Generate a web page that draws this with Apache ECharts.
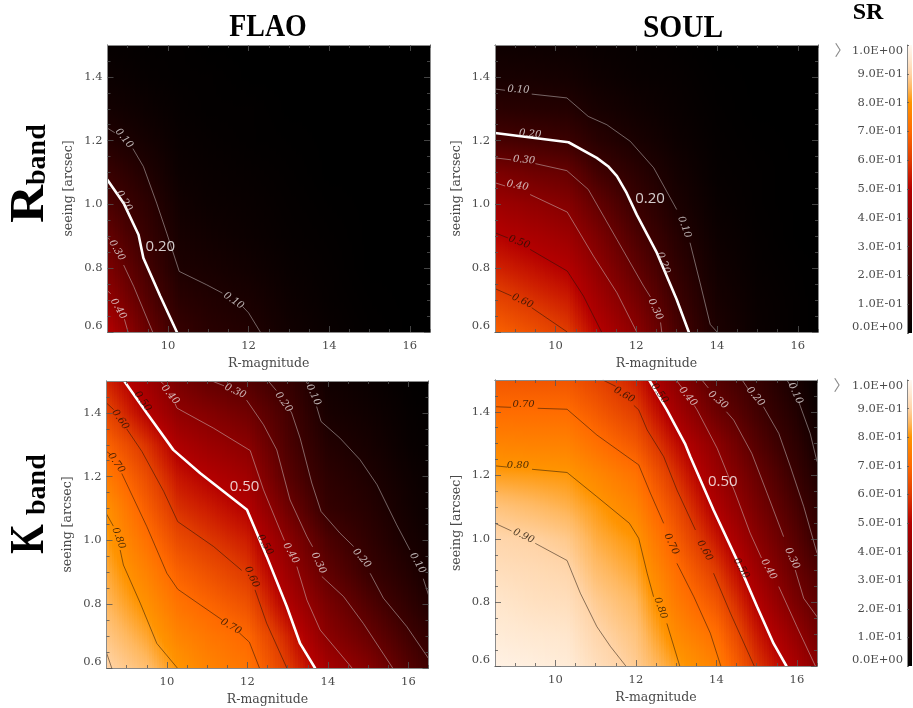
<!DOCTYPE html>
<html><head><meta charset="utf-8">
<script src="https://cdn.jsdelivr.net/npm/echarts@6/dist/echarts.min.js"></script>
<style>html,body{margin:0;padding:0;background:#fff}#c{width:913px;height:708px}</style>
</head><body><div id="c"></div>
<script>
const magNodes = [8.5, 9.5, 10.3, 11, 12, 13, 14, 15, 16, 16.5];
const seeingNodes = [0.6, 0.7, 0.8, 0.9, 1.0, 1.1, 1.2, 1.3, 1.4, 1.5];
const levelsBar = [0, 0.1, 0.2, 0.3, 0.4, 0.5, 0.6, 0.7, 0.8, 0.9, 1.0];
const colorStops = [[0,'#000000'],[0.1,'#1c0000'],[0.2,'#3c0000'],[0.3,'#640000'],[0.4,'#8c0000'],[0.5,'#b40000'],[0.55,'#cc1c00'],[0.6,'#e03c00'],[0.7,'#ff6a00'],[0.8,'#ff9400'],[0.85,'#ffb860'],[0.9,'#ffd4a8'],[0.95,'#ffe8d0'],[1,'#fff8f2']];

// Strehl ratio: one row per magnitude node, seeing 0.6 -> 1.5
const srFlaoR = [
[.50,.42,.36,.30,.24,.19,.12,.07,.04,.02],
[.31,.26,.22,.18,.15,.11,.07,.04,.02,.01],
[.18,.14,.10,.08,.06,.04,.03,.02,.01,.01],
[.14,.115,.085,.06,.04,.03,.02,.01,.01,0],
[.115,.09,.06,.04,.03,.02,.01,.01,0,0],
[.06,.045,.03,.02,.015,.01,.005,0,0,0],
[.03,.02,.015,.01,.005,0,0,0,0,0],
[.01,.005,0,0,0,0,0,0,0,0],
[0,0,0,0,0,0,0,0,0,0],
[0,0,0,0,0,0,0,0,0,0]];
const srSoulR = [
[.68,.62,.56,.505,.445,.36,.23,.145,.085,.05],
[.64,.58,.525,.47,.41,.325,.215,.13,.08,.045],
[.60,.55,.495,.44,.38,.305,.195,.12,.07,.04],
[.51,.46,.415,.365,.30,.22,.14,.085,.05,.03],
[.40,.345,.29,.24,.19,.145,.09,.055,.03,.02],
[.235,.20,.165,.13,.095,.07,.045,.03,.02,.01],
[.10,.08,.06,.045,.03,.02,.015,.01,.005,0],
[.035,.03,.02,.015,.01,.01,.005,0,0,0],
[.01,.01,.005,0,0,0,0,0,0,0],
[0,0,0,0,0,0,0,0,0,0]];
const srFlaoK = [
[.90,.875,.85,.83,.81,.79,.74,.685,.62,.56],
[.86,.825,.79,.755,.715,.675,.635,.585,.50,.45],
[.80,.76,.72,.68,.63,.58,.535,.48,.41,.35],
[.76,.73,.69,.645,.595,.55,.50,.44,.38,.30],
[.725,.695,.645,.595,.55,.50,.45,.395,.33,.26],
[.60,.56,.49,.44,.395,.33,.27,.24,.22,.18],
[.46,.395,.35,.29,.24,.175,.15,.12,.085,.06],
[.38,.31,.25,.19,.16,.13,.105,.08,.055,.035],
[.26,.21,.16,.12,.085,.065,.05,.03,.02,.01],
[.21,.165,.115,.08,.06,.04,.03,.02,.01,0]];
const srSoulK = [
[.98,.96,.945,.925,.905,.87,.815,.76,.705,.66],
[.97,.95,.93,.915,.895,.855,.81,.755,.705,.655],
[.96,.945,.925,.905,.88,.84,.805,.755,.705,.655],
[.925,.905,.885,.86,.835,.81,.77,.715,.665,.62],
[.885,.87,.85,.825,.80,.76,.72,.66,.605,.555],
[.815,.775,.74,.71,.67,.63,.58,.525,.46,.40],
[.755,.71,.655,.60,.54,.485,.44,.40,.32,.26],
[.59,.545,.495,.445,.395,.35,.31,.26,.215,.18],
[.47,.415,.35,.305,.265,.225,.185,.15,.115,.08],
[.40,.34,.29,.245,.19,.15,.115,.08,.045,.02]];

// Contours: [level, segment, segment, ...]; segments are split where a label sits on the line
const contFlaoR = [
[.40,[[8.5,.729],[8.58,.72]],[[8.92,.64],[9.01,.6]]],
[.30,[[8.5,.897],[8.55,.89]],[[8.9,.81],[9.15,.743],[9.62,.6]]],
[.20,[[8.5,1.077],[8.9,1.004],[9.27,.905],[9.39,.832],[9.81,.712],[10.22,.6]]],
[.10,[[8.5,1.239],[8.68,1.225]],[[9.13,1.175],[9.39,1.119],[9.72,1.004],[9.97,.91],[10.28,.79],[10.96,.748],[11.35,.722]],[[11.85,.68],[12,.66],[12.29,.6]]]];
const contSoulR = [
[.60,[[8.5,.736],[8.91,.713]],[[9.41,.676],[10.29,.6]]],
[.50,[[8.5,.911],[8.82,.895]],[[9.37,.859],[10.29,.791],[10.69,.713],[11.14,.6]]],
[.40,[[8.5,1.068],[8.75,1.058]],[[9.37,1.031],[10.29,.976],[10.94,.838],[11.52,.723],[12.01,.6]]],
[.30,[[8.5,1.146],[8.9,1.14]],[[9.5,1.128],[10.28,1.106],[10.81,1.047],[11.52,.89],[12.18,.744],[12.35,.71]],[[12.6,.63],[12.63,.6]]],
[.20,[[8.5,1.224],[10.32,1.195],[11.02,1.146],[11.3,1.12],[11.52,1.089],[11.76,1.036],[12.01,.968],[12.51,.848],[13,.702],[13.3,.6]]],
[.10,[[8.5,1.362],[8.75,1.358]],[[9.41,1.346],[10.28,1.334],[10.81,1.276],[11.27,1.25],[11.85,1.198],[12.43,1.115],[13,.984]],[[13.33,.88],[13.58,.754],[13.83,.624],[14,.6]]]];
const contFlaoK = [
[.90,[[8.5,.648],[8.63,.6]]],
[.80,[[8.5,1.083],[8.67,1.045]],[[8.84,.97],[8.92,.923],[9.34,.803],[9.75,.677],[10.26,.6]]],
[.70,[[8.5,1.279],[8.6,1.27]],[[8.88,1.21],[9.5,1.044],[10,.897],[10.27,.847],[10.83,.798],[11.37,.751]],[[11.8,.71],[12.05,.681],[12.3,.6]]],
[.60,[[8.5,1.431],[8.68,1.41]],[[9,1.35],[9.38,1.279],[9.92,1.154],[10.27,1.059],[11.16,.981],[11.86,.906]],[[12.19,.845],[12.48,.74],[12.98,.6]]],
[.50,[[8.94,1.5],[9.5,1.4],[10.16,1.284],[10.83,1.211],[11.99,1.096],[12.48,.95],[12.98,.793],[13.31,.677],[13.68,.6]]],
[.40,[[9.83,1.5],[9.92,1.49]],[[10.2,1.43],[10.25,1.415],[11.16,1.352],[12.07,1.282],[12.4,1.159],[12.81,1.033],[12.92,1.0]],[[13.23,.918],[13.48,.813],[13.81,.719],[14.6,.6]]],
[.30,[[11.12,1.5],[11.42,1.485]],[[11.98,1.44],[12.03,1.431],[12.4,1.363],[12.73,1.284],[13.06,1.127],[13.48,1.012],[13.62,.98]],[[13.85,.887],[14.39,.824],[14.88,.74],[15.61,.6]]],
[.20,[[12.52,1.5],[12.72,1.47]],[[13.05,1.41],[13.1,1.4],[13.31,1.321],[13.6,1.18],[13.83,1.091],[14.3,1.023],[14.64,.981]],[[15.05,.897],[15.38,.819],[15.96,.73],[16.5,.63]]],
[.10,[[13.45,1.5],[13.5,1.49]],[[13.72,1.42],[13.83,1.373],[14.3,1.321],[14.8,1.253],[15.22,1.175],[15.71,1.049],[16.04,.97]],[[16.37,.88],[16.5,.829]]]];
const contSoulK = [
[.90,[[8.5,1.049],[8.91,1.025]],[[9.5,.986],[10.29,.932],[10.62,.829],[11.03,.724],[11.37,.661],[11.75,.6]]],
[.80,[[8.5,1.23],[8.8,1.226]],[[9.42,1.219],[10.29,1.209],[11.03,1.133],[11.84,1.049],[12.07,1.002],[12.28,.892],[12.44,.818]],[[12.77,.734],[13.09,.6]]],
[.70,[[8.5,1.416],[8.9,1.414]],[[9.56,1.411],[10.29,1.408],[11.03,1.327],[11.78,1.259],[12.07,1.233],[12.36,1.144],[12.69,1.049]],[[13.02,.923],[13.44,.818],[13.85,.703],[14.11,.6]]],
[.60,[[11.18,1.5],[11.5,1.48]],[[11.95,1.42],[12.07,1.406],[12.28,1.343],[12.69,1.259],[13.02,1.154],[13.48,1.028]],[[13.93,.892],[14.35,.766],[14.94,.6]]],
[.50,[[12.33,1.5],[12.77,1.406],[13.22,1.3],[13.35,1.259],[13.93,1.091],[14.51,.934],[15.01,.787],[15.42,.671],[15.74,.6]]],
[.40,[[13,1.5],[13.15,1.475]],[[13.45,1.42],[13.52,1.406],[14.02,1.285],[14.47,1.144],[14.84,1.018],[15.12,.94]],[[15.55,.85],[16,.724],[16.46,.6]]],
[.30,[[13.64,1.5],[13.8,1.475]],[[14.25,1.40],[14.43,1.374],[14.88,1.269],[15.26,1.144],[15.67,1.007]],[[15.96,.902],[16.17,.813],[16.5,.755]]],
[.20,[[14.64,1.5],[14.8,1.47]],[[15.17,1.416],[15.55,1.332],[15.84,1.227],[16.17,1.102],[16.5,.955]]],
[.10,[[15.75,1.5],[15.85,1.48]],[[16.05,1.43],[16.09,1.416],[16.33,1.332],[16.5,1.243]]]];

// Labels on contours: [mag, seeing, text, rotation]
const labFlaoR = [[8.91,1.207,'0.10',-50],[11.63,.698,'0.10',-35],[8.91,1.011,'0.20',-60],[8.73,.856,'0.30',-60],[8.77,.673,'0.40',-60]];
const labSoulR = [[9.08,1.36,'0.10',-3],[13.19,.929,'0.10',-70],[9.37,1.221,'0.20',-5],[12.67,.817,'0.20',-70],[9.22,1.139,'0.30',-5],[12.47,.671,'0.30',-65],[9.06,1.059,'0.40',-10],[9.10,.882,'0.50',-20],[9.18,.697,'0.60',-25]];
const labFlaoK = [[9.4,1.436,'0.50',-55],[10.08,1.457,'0.40',-50],[11.7,1.468,'0.30',-25],[12.9,1.434,'0.20',-55],[13.64,1.457,'0.10',-65],[8.84,1.379,'0.60',-55],[8.74,1.243,'0.70',-55],[8.8,1.007,'0.80',-70],[12.11,.885,'0.60',-65],[11.59,.73,'0.70',-30],[12.44,.986,'0.50',-60],[13.08,.96,'0.40',-60],[13.77,.929,'0.30',-65],[14.84,.944,'0.20',-50],[16.23,.929,'0.10',-60]];
const labSoulK = [[15.96,1.458,'0.10',-65],[14.97,1.448,'0.20',-50],[14.04,1.437,'0.30',-40],[13.29,1.448,'0.40',-50],[12.59,1.458,'0.50',-55],[11.71,1.453,'0.60',-30],[9.21,1.422,'0.70',0],[9.07,1.232,'0.80',0],[9.21,1.009,'0.90',-25],[12.88,.984,'0.70',-65],[13.71,.963,'0.60',-60],[14.62,.907,'0.50',-60],[15.3,.904,'0.40',-60],[15.88,.939,'0.30',-65],[12.61,.782,'0.80',-70]];

// Highlighted level: [mag, seeing, text]
const noteFlaoR = [9.81,.868,'0.20'], noteSoulR = [12.34,1.019,'0.20'], noteFlaoK = [11.93,1.168,'0.50'], noteSoulK = [14.16,1.18,'0.50'];
const hiFlaoR = .20, hiSoulR = .20, hiFlaoK = .50, hiSoulK = .50;

const xMajor = [10,12,14,16];
const xMinor = [9,9.5,10.5,11,11.5,12.5,13,13.5,14.5,15,15.5,16.5];
const yMajor = [0.6,0.8,1.0,1.2,1.4];
const yMinor = [.65,.7,.75,.85,.9,.95,1.05,1.1,1.15,1.25,1.3,1.35,1.45];

const panels = [
 {box:[107.5,45,322.5,287], sr:srFlaoR, cont:contFlaoR, lab:labFlaoR, note:noteFlaoR, hi:hiFlaoR},
 {box:[495,45,323,287],     sr:srSoulR, cont:contSoulR, lab:labSoulR, note:noteSoulR, hi:hiSoulR},
 {box:[106.5,381,322,287],  sr:srFlaoK, cont:contFlaoK, lab:labFlaoK, note:noteFlaoK, hi:hiFlaoK},
 {box:[495,380,322,286],    sr:srSoulK, cont:contSoulK, lab:labSoulK, note:noteSoulK, hi:hiSoulK}
];
const bars = [[907,45,5,288],[907,380,5,286]];

const hex = h => [1,3,5].map(i=>parseInt(h.substr(i,2),16));
function srColor(v){
  v = Math.max(0,Math.min(1,v));
  for(let i=1;i<colorStops.length;i++){
    if(v<=colorStops[i][0]){
      const [a,ca]=colorStops[i-1],[b,cb]=colorStops[i];
      const t=(v-a)/(b-a),A=hex(ca),B=hex(cb);
      return 'rgb('+A.map((c,k)=>Math.round(c+(B[k]-c)*t)).join(',')+')';
    }
  }
  return colorStops[colorStops.length-1][1];
}
const fmtBar = v => { const s=v.toExponential(1).split('e'); const e=parseInt(s[1],10);
  return s[0]+'E'+(e<0?'-':'+')+String(Math.abs(e)).padStart(2,'0'); };

const grid=[],xAxis=[],yAxis=[],series=[];
const tickFont={fontFamily:'DejaVu Serif',fontSize:11.5,color:'#4a4a4a'};
const BOX='#8a8a8a';
panels.forEach((p,pi)=>{
  const g=grid.length;
  grid.push({left:p.box[0],top:p.box[1],width:p.box[2],height:p.box[3],containLabel:false});
  const xi=xAxis.length, yi=yAxis.length;
  const mkX=(pos,vals,len,labels)=>({type:'value',gridIndex:g,min:8.5,max:16.5,position:pos,z:9,
    axisLine:{onZero:false,show:true,lineStyle:{color:BOX,width:1}},
    axisTick:{show:true,inside:true,length:len,customValues:vals,lineStyle:{color:'#555',width:.8}},
    splitLine:{show:false},
    axisLabel:labels?{show:true,customValues:xMajor,margin:8,formatter:v=>String(v),...tickFont}:{show:false},
    ...(labels?{name:'R-magnitude',nameLocation:'middle',nameGap:25,nameTextStyle:{fontFamily:'DejaVu Serif',fontSize:12.5,color:'#4a4a4a'}}:{})});
  const mkY=(pos,vals,len,labels)=>({type:'value',gridIndex:g,min:0.6,max:1.5,position:pos,z:9,
    axisLine:{onZero:false,show:true,lineStyle:{color:BOX,width:1}},
    axisTick:{show:true,inside:true,length:len,customValues:vals,lineStyle:{color:'#555',width:.8}},
    splitLine:{show:false},
    axisLabel:labels?{show:true,customValues:yMajor,margin:5,verticalAlignMinLabel:'bottom',formatter:v=>v.toFixed(1),...tickFont}:{show:false},
    ...(labels?{name:'seeing [arcsec]',nameLocation:'middle',nameGap:32,nameTextStyle:{fontFamily:'DejaVu Serif',fontSize:12.5,color:'#4a4a4a'}}:{})});
  xAxis.push(mkX('bottom',xMajor,6,true),mkX('bottom',xMinor,3,false),mkX('top',xMajor,6,false),mkX('top',xMinor,3,false));
  yAxis.push(mkY('left',yMajor,6,true),mkY('left',yMinor,3,false),mkY('right',yMajor,6,false),mkY('right',yMinor,3,false));

  // heat map cells
  const cells=[];
  for(let i=0;i<magNodes.length-1;i++) for(let j=0;j<seeingNodes.length-1;j++)
    cells.push([magNodes[i],seeingNodes[j],magNodes[i+1],seeingNodes[j+1],p.sr[i][j],p.sr[i+1][j],p.sr[i][j+1],p.sr[i+1][j+1]]);
  series.push({type:'custom',xAxisIndex:xi,yAxisIndex:yi,silent:true,z:1,animation:false,clip:true,data:cells,
    encode:{x:[0,2],y:[1,3]},
    renderItem:(params,api)=>{
      const x0=api.value(0),y0=api.value(1),x1=api.value(2),y1=api.value(3);
      const v00=api.value(4),v10=api.value(5),v01=api.value(6),v11=api.value(7);
      const a=api.coord([x0,y0]),b=api.coord([x1,y1]);
      const w=b[0]-a[0],top=Math.round(b[1]),bot=Math.round(a[1]);
      const n=Math.max(2,Math.round(w/2.5));
      const children=[];
      for(let s=0;s<n;s++){
        const t0=(s+.5)/n;
        const vb=v00+(v10-v00)*t0, vt=v01+(v11-v01)*t0;
        const stops=[];
        for(let k=0;k<=6;k++){const f=k/6; stops.push({offset:f,color:srColor(vt+(vb-vt)*f)});}
        const xa=Math.round(a[0]+w*s/n),xb=Math.round(a[0]+w*(s+1)/n);
        children.push({type:'rect',silent:true,
          shape:{x:xa,y:top,width:xb-xa,height:bot-top},
          style:{fill:new echarts.graphic.LinearGradient(0,0,0,1,stops)}});
      }
      return {type:'group',children};
    }});

  // contours
  p.cont.forEach(c=>{
    const lev=c[0],hi=Math.abs(lev-p.hi)<1e-6;
    c.slice(1).forEach(seg=>series.push({type:'line',xAxisIndex:xi,yAxisIndex:yi,silent:true,z:hi?6:4,animation:false,
      symbol:'none',smooth:false,data:seg,
      lineStyle:hi?{color:'#ffffff',width:2.6,cap:'round'}:{color:lev>=.5?'rgba(30,20,10,.65)':'rgba(215,210,210,.6)',width:.8}}));
  });

  // contour labels
  series.push({type:'scatter',xAxisIndex:xi,yAxisIndex:yi,silent:true,z:7,animation:false,symbolSize:0,
    data:p.lab.map(l=>({value:[l[0],l[1]],label:{show:true,position:'inside',formatter:l[2],rotate:l[3],
      color:parseFloat(l[2])>=.5?'#1a1005':'#e8e4e4',fontFamily:'DejaVu Serif',fontStyle:'italic',fontSize:10}}))});
  // highlighted level tag
  series.push({type:'scatter',xAxisIndex:xi,yAxisIndex:yi,silent:true,z:8,animation:false,symbolSize:0,
    data:[{value:[p.note[0],p.note[1]],label:{show:true,position:'inside',formatter:p.note[2],color:'#fff',
      fontFamily:'Open Sans',fontSize:15}}]});
});

// colour bars
const barStops=colorStops.map(s=>({offset:1-s[0],color:s[1]})).reverse();
bars.forEach(b=>{
  const g=grid.length;
  grid.push({left:b[0],top:b[1],width:b[2],height:b[3]});
  const xi=xAxis.length,yi=yAxis.length;
  xAxis.push({type:'category',gridIndex:g,data:['SR'],show:false});
  yAxis.push({type:'value',gridIndex:g,min:0,max:1,position:'left',z:9,
    axisLine:{show:true,onZero:false,lineStyle:{color:BOX,width:1}},
    axisTick:{show:true,inside:true,length:2,customValues:levelsBar,lineStyle:{color:'#555',width:.8}},
    splitLine:{show:false},
    axisLabel:{show:true,customValues:levelsBar,margin:4,verticalAlignMinLabel:'bottom',verticalAlignMaxLabel:'top',formatter:fmtBar,...tickFont}});
  series.push({type:'bar',xAxisIndex:xi,yAxisIndex:yi,silent:true,animation:false,barWidth:'100%',data:[1],
    itemStyle:{color:new echarts.graphic.LinearGradient(0,0,0,1,barStops)}});
});

const rot=(x,y,text,font,sx)=>({type:'text',x,y,rotation:Math.PI/2,scaleX:sx||1,silent:true,
  style:{text,font,fill:'#000',textAlign:'left',textVerticalAlign:'bottom'}});
const head=(cx,cy,text,font,sx)=>({type:'text',x:cx,y:cy,scaleX:sx||1,silent:true,
  style:{text,font,fill:'#000',textAlign:'center',textVerticalAlign:'middle'}});
const chev=(x,y)=>({type:'text',x,y,silent:true,style:{text:'〉',font:'15px "Noto Sans CJK SC"',fill:'#8a8a8a',textAlign:'center',textVerticalAlign:'middle'}});
const graphic=[
  head(268,27.5,'FLAO','bold 31px "Liberation Serif"',.9),
  head(683,29,'SOUL','bold 31px "Liberation Serif"',.95),
  head(868,13,'SR','bold 24px "Liberation Serif"'),
  rot(55,223,'R','bold 48px "Liberation Serif"',1.1),
  rot(52,185,'band','bold 28px "Liberation Serif"'),
  rot(55,554,'K','bold 48px "Liberation Serif"',.8),
  rot(52,515,'band','bold 28px "Liberation Serif"'),
  chev(842,50),chev(841,385)
];

const chart=echarts.init(document.getElementById('c'),null,{renderer:'canvas'});
chart.setOption({animation:false,backgroundColor:'#fff',grid,xAxis,yAxis,series,graphic});
</script>
</body></html>
